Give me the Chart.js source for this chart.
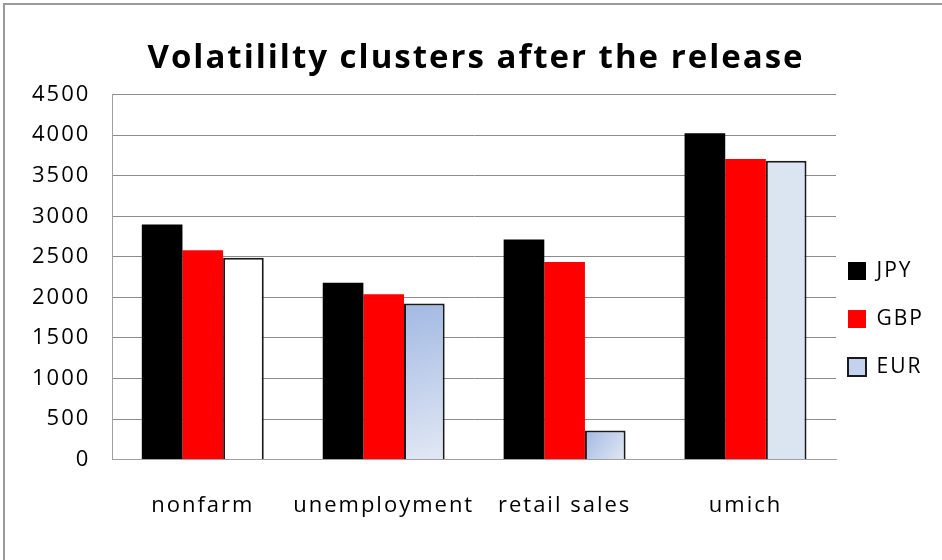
<!DOCTYPE html>
<html>
<head>
<meta charset="utf-8">
<script src="https://cdn.jsdelivr.net/npm/chart.js@4.4.1/dist/chart.umd.min.js"></script>
<style>
  html, body { margin: 0; padding: 0; background: #fff; }
  #frame { position: absolute; left: 3px; top: 3px; width: 939px; height: 557px; border-left: 2px solid #9a9a9a; border-top: 2px solid #9a9a9a; }
  #wrap { position: absolute; left: 0; top: 0; width: 942px; height: 560px; }
</style>
</head>
<body>
<div id="frame"></div>
<div id="wrap"><canvas id="bar-chart-grouped"></canvas></div>
<script>
const categories = ["nonfarm", "unemployment", "retail sales", "umich"];
const jpyValues = [2900, 2180, 2715, 4025];
const gbpValues = [2580, 2040, 2435, 3705];
const eurValues = [2490, 1925, 360, 3685];
// how each EUR bar is filled in the original
const eurFillKind = ["white", "gradient", "gradient", "flat"];
const yMax = 4500;
const yStep = 500;

function eurFill(c) {
  const kind = eurFillKind[c.dataIndex];
  if (kind === "white") return "#ffffff";
  if (kind === "flat") return "#dbe5f1";
  const el = c.element;
  if (!el || !isFinite(el.x) || !el.width) return "#c4d2ed";
  const g = c.chart.ctx.createLinearGradient(el.x - el.width / 2, el.y, el.x + el.width / 2, el.base);
  g.addColorStop(0, "#a2b9e3");
  g.addColorStop(1, "#e2e8f4");
  return g;
}

// the original text is spaced out a little, and its legend sits close to the plot
const tweaks = {
  id: "tweaks",
  beforeLayout(chart) { chart.ctx.letterSpacing = "2px"; },
  afterLayout(chart) {
    chart.legend.left -= 15;
    chart.legend.right -= 15;
  },
  beforeDraw(chart) { chart.ctx.letterSpacing = "2px"; },
};

const chart = new Chart(document.getElementById("bar-chart-grouped"), {
  type: "bar",
  data: {
    labels: categories,
    datasets: [
      { label: "JPY", backgroundColor: "#000000", borderWidth: 0, data: jpyValues },
      { label: "GBP", backgroundColor: "#ff0000", borderWidth: 0, data: gbpValues },
      { label: "EUR", backgroundColor: eurFill, borderColor: "#1a1a1a", borderWidth: 2, data: eurValues },
    ],
  },
  options: {
    responsive: true,
    maintainAspectRatio: false,
    animation: false,
    categoryPercentage: 0.674,
    barPercentage: 1.0,
    layout: { padding: { left: 10, right: 0, top: 0, bottom: 8 } },
    plugins: {
      title: {
        display: true,
        text: "Volatililty clusters after the release",
        color: "#000",
        font: { family: "'Open Sans', sans-serif", size: 33, weight: "bold" },
        padding: { top: 39, bottom: 16 },
      },
      legend: {
        position: "right",
        maxWidth: 106,
        title: { display: true, text: "", padding: 37, font: { size: 10 } },
        labels: {
          color: "#000",
          boxWidth: 18,
          boxHeight: 18,
          padding: 27,
          font: { family: "'Open Sans', sans-serif", size: 21 },
          generateLabels(chart) {
            const items = Chart.defaults.plugins.legend.labels.generateLabels(chart);
            items[2].fillStyle = "#c4d2ed";
            return items;
          },
        },
      },
      tooltip: { enabled: false },
    },
    scales: {
      x: {
        grid: { display: false, drawTicks: false },
        border: { display: true, color: "#a0a0a0", width: 1 },
        ticks: {
          color: "#000",
          padding: 33,
          autoSkip: false,
          maxRotation: 0,
          font: { family: "'Open Sans', sans-serif", size: 22 },
        },
      },
      y: {
        min: 0,
        max: yMax,
        grid: { color: "#8c8c8c", lineWidth: 1, drawTicks: false },
        border: { display: true, color: "#a0a0a0", width: 1 },
        ticks: {
          stepSize: yStep,
          color: "#000",
          padding: 22,
          callback: (v) => String(v),
          font: { family: "'Open Sans', sans-serif", size: 22 },
        },
      },
    },
  },
  plugins: [tweaks],
});
// second pass so the gradient bars know their own size
chart.update("none");
</script>
</body>
</html>
